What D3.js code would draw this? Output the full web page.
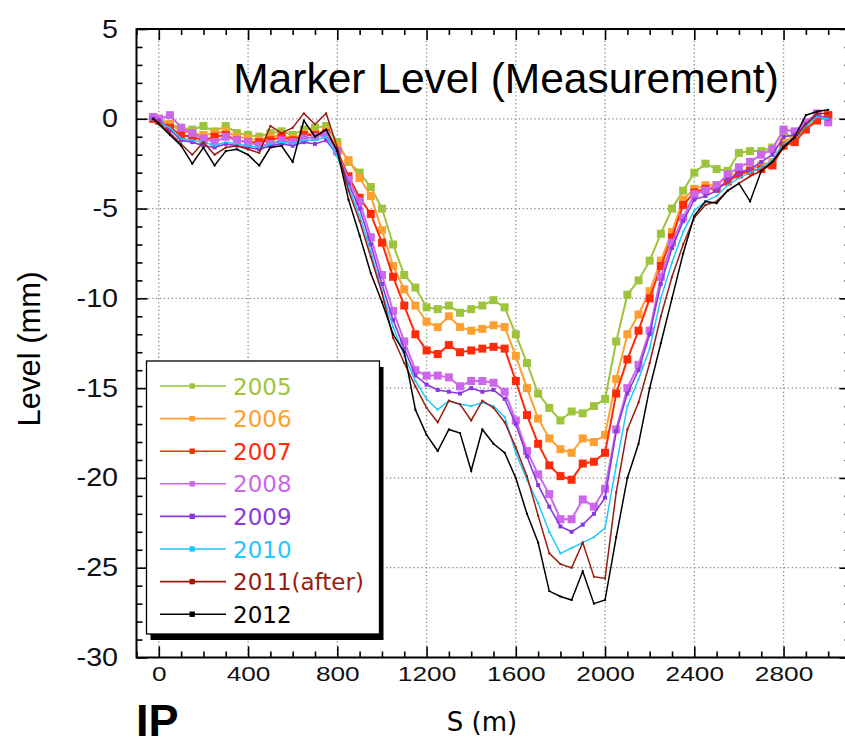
<!DOCTYPE html>
<html><head><meta charset="utf-8">
<script src="https://cdn.jsdelivr.net/npm/d3@7"></script>
<style>body{margin:0;background:#fff;overflow:hidden}</style>
</head><body>
<svg id="c" width="845" height="746"></svg>
<script>
// ---------------- DATA ----------------
const S = [-25,0,50,100,150,200,250,300,350,400,450,500,550,600,650,700,750,800,850,900,950,1000,1050,1100,1150,1200,1250,1300,1350,1400,1450,1500,1550,1600,1650,1700,1750,1800,1850,1900,1950,2000,2050,2100,2150,2200,2250,2300,2350,2400,2450,2500,2550,2600,2650,2700,2750,2800,2850,2900,2950,3000];

const years = ["2005","2006","2007","2008","2009","2010","2011(after)","2012"];

const v2005 = [0.0,0.0,-0.3,-0.5,-0.6,-0.4,-0.7,-0.4,-0.8,-0.9,-1.0,-0.8,-0.7,-0.9,-0.6,-0.5,-0.4,-1.3,-2.4,-3.0,-3.8,-5.0,-7.0,-8.7,-9.4,-10.5,-10.6,-10.4,-10.8,-10.6,-10.4,-10.1,-10.5,-12.0,-13.6,-15.3,-16.1,-16.8,-16.3,-16.4,-16.0,-15.6,-12.4,-9.8,-9.0,-7.9,-6.4,-5.0,-4.0,-3.0,-2.5,-2.8,-2.9,-1.9,-1.8,-1.8,-1.6,-0.7,-1.2,-0.5,0.2,0.0];
const v2006 = [0.0,0.0,-0.3,-0.7,-0.8,-0.9,-0.8,-0.7,-1.0,-1.1,-1.2,-1.0,-0.9,-1.1,-0.8,-0.8,-0.7,-1.5,-2.3,-3.3,-4.3,-6.2,-8.2,-9.5,-10.4,-11.3,-11.6,-11.0,-11.6,-11.8,-11.7,-11.5,-11.6,-13.2,-15.0,-16.7,-17.8,-18.4,-18.6,-17.8,-18.0,-17.6,-14.5,-12.0,-10.9,-9.6,-7.9,-6.3,-4.5,-3.9,-3.7,-3.7,-3.2,-3.0,-2.8,-2.6,-2.4,-1.3,-1.0,-0.5,0.0,0.2];
const v2007 = [0.0,-0.1,-0.5,-0.9,-1.0,-1.2,-1.0,-0.9,-1.2,-1.3,-1.3,-1.2,-1.0,-1.2,-0.9,-0.9,-0.8,-1.8,-3.2,-4.4,-5.3,-6.9,-8.8,-10.4,-12.0,-12.9,-13.1,-12.6,-13.0,-12.9,-12.8,-12.7,-12.8,-14.6,-16.5,-18.1,-19.3,-19.9,-20.1,-19.2,-19.1,-18.6,-15.3,-13.4,-11.8,-10.0,-8.2,-6.6,-4.8,-4.1,-3.9,-3.9,-3.5,-3.1,-2.9,-2.8,-2.6,-1.5,-1.3,-0.6,-0.1,0.2];
const v2008 = [0.1,0.0,0.2,-0.5,-0.8,-1.1,-1.3,-1.0,-1.2,-1.3,-1.5,-1.4,-1.2,-1.3,-1.1,-1.0,-0.9,-1.8,-3.4,-4.6,-6.6,-8.7,-10.7,-12.4,-14.0,-14.3,-14.3,-14.4,-14.9,-14.6,-14.6,-14.7,-15.2,-16.8,-18.5,-19.8,-20.9,-22.3,-22.3,-21.2,-21.6,-20.6,-17.3,-15.0,-13.7,-11.8,-8.8,-6.9,-5.5,-4.2,-4.0,-3.7,-3.1,-2.7,-2.4,-2.0,-1.7,-0.6,-0.7,-0.2,0.3,-0.2];
const v2009 = [0.0,-0.1,-0.6,-1.2,-1.3,-1.5,-1.6,-1.4,-1.5,-1.6,-1.7,-1.5,-1.4,-1.5,-1.3,-1.4,-1.2,-2.0,-3.6,-5.0,-7.0,-9.2,-11.2,-12.8,-14.3,-14.8,-15.1,-15.2,-15.3,-15.0,-15.2,-15.1,-15.6,-17.0,-18.8,-20.4,-21.6,-22.7,-23.0,-22.6,-22.0,-21.1,-17.4,-15.3,-14.0,-12.0,-9.2,-7.2,-5.7,-4.5,-4.3,-4.0,-3.4,-3.0,-2.8,-2.4,-2.0,-1.0,-0.9,-0.3,0.2,0.0];
const v2010 = [0.0,-0.2,-0.5,-1.1,-1.2,-1.3,-1.5,-1.3,-1.4,-1.5,-1.6,-1.4,-1.3,-1.4,-1.2,-1.2,-1.0,-2.1,-3.8,-5.4,-7.4,-9.6,-11.6,-13.2,-14.6,-15.6,-16.2,-15.7,-15.9,-16.0,-15.8,-16.0,-16.6,-18.6,-20.1,-21.4,-23.0,-24.2,-23.9,-23.6,-23.3,-22.8,-19.3,-16.0,-14.5,-12.8,-10.0,-8.0,-6.3,-5.1,-4.6,-4.3,-3.7,-3.3,-3.0,-2.7,-2.3,-1.4,-1.1,-0.4,0.1,0.0];
const v2011 = [0.0,-0.2,-0.8,-1.4,-2.0,-1.3,-2.0,-1.6,-1.5,-1.7,-1.9,-0.4,-0.8,-0.5,0.3,-0.3,0.3,-1.6,-4.0,-5.7,-7.7,-9.7,-12.2,-13.6,-14.9,-16.1,-16.9,-15.7,-15.9,-16.8,-15.7,-16.1,-16.9,-18.3,-19.9,-22.1,-24.2,-24.8,-25.0,-23.6,-25.5,-25.6,-20.8,-17.3,-15.8,-13.6,-11.0,-8.8,-7.0,-5.5,-4.8,-4.6,-4.0,-3.6,-3.2,-2.9,-2.4,-1.5,-1.1,-0.3,0.3,0.3];
const v2012 = [0.0,-0.3,-0.9,-1.5,-2.5,-1.6,-2.6,-1.8,-1.7,-2.0,-2.6,-1.6,-1.5,-2.4,-0.1,-1.0,-0.6,-1.8,-4.5,-6.5,-8.6,-10.2,-12.0,-13.0,-16.2,-17.6,-18.5,-17.3,-17.5,-19.6,-17.3,-18.1,-18.6,-20.0,-22.0,-23.6,-26.3,-26.6,-26.8,-25.2,-27.0,-26.8,-23.3,-20.0,-18.1,-15.0,-12.5,-10.0,-7.5,-5.4,-4.6,-4.7,-4.0,-3.6,-4.6,-2.9,-2.4,-1.6,-1.0,0.2,0.4,0.5];

const seriesValues = [v2005,v2006,v2007,v2008,v2009,v2010,v2011,v2012];

const xTicks = [0,400,800,1200,1600,2000,2400,2800];
const xMinor = [-100,100,200,300,500,600,700,900,1000,1100,1300,1400,1500,1700,1800,1900,2100,2200,2300,2500,2600,2700,2900,3000,3100];
const yTicks = [5,0,-5,-10,-15,-20,-25,-30];
const yMinor = [4,3,2,1,-1,-2,-3,-4,-6,-7,-8,-9,-11,-12,-13,-14,-16,-17,-18,-19,-21,-22,-23,-24,-26,-27,-28,-29];
const yGrid = [0,-5,-10,-15,-20,-25];

// ---------------- STYLE ----------------
const colors = ["#9dc43c","#ff9f30","#ff2a08","#cc66ea","#8a38e0","#1ec8ff","#9a1c0e","#000000"];
const markerSize = [8,8,8,8,4,2,2,2];
const lineWidth = [2,2,2,2,1.6,1.5,1.5,1.5];

const svg = d3.select("#c");
const L = 136.5, R = 850.5, T = 29, B = 657.5;
const x = d3.scaleLinear().domain([-100,3100]).range([L,R]);
const y = d3.scaleLinear().domain([-30,5]).range([B,T]);

// grid
const grid = svg.append("g").attr("stroke","#8a8a8a").attr("stroke-width",1.3).attr("stroke-dasharray","1.3,2.6");
grid.selectAll(".gx").data(xTicks).join("line")
  .attr("x1",d=>x(d)).attr("x2",d=>x(d)).attr("y1",T).attr("y2",B);
grid.selectAll(".gy").data(yGrid).join("line")
  .attr("y1",d=>y(d)).attr("y2",d=>y(d)).attr("x1",L).attr("x2",R);

// series
const line = d3.line().x((d,i)=>x(S[i])).y(d=>y(d));
seriesValues.forEach((vals,k)=>{
  const g = svg.append("g");
  g.append("path").datum(vals).attr("d",line).attr("fill","none")
    .attr("stroke",colors[k]).attr("stroke-width",lineWidth[k]).attr("stroke-linejoin","miter");
  const s = markerSize[k];
  g.selectAll("rect").data(vals).join("rect")
    .attr("x",(d,i)=>x(S[i])-s/2).attr("y",d=>y(d)-s/2)
    .attr("width",s).attr("height",s).attr("fill",colors[k]);
});

// axes
const fmt = d=>String(d);
function styleAxis(g){ g.select(".domain").remove(); g.selectAll("line").attr("stroke","#000").attr("stroke-width",1.6); }
svg.append("g").attr("transform",`translate(0,${B})`)
  .call(d3.axisBottom(x).tickValues(xTicks).tickSize(-11).tickPadding(9).tickFormat(fmt))
  .call(styleAxis)
  .call(g=>g.selectAll("text").attr("font-family","Liberation Sans, Arial, sans-serif").attr("font-size",21)
        .attr("fill","#111").attr("transform","scale(1.25,1)"));
svg.append("g").attr("transform",`translate(0,${B})`)
  .call(d3.axisBottom(x).tickValues(xMinor).tickSize(-6).tickFormat("")).call(styleAxis);
svg.append("g").attr("transform",`translate(0,${T})`)
  .call(d3.axisTop(x).tickValues(xTicks).tickSize(-11).tickFormat("")).call(styleAxis);
svg.append("g").attr("transform",`translate(0,${T})`)
  .call(d3.axisTop(x).tickValues(xMinor).tickSize(-6).tickFormat("")).call(styleAxis);
svg.append("g").attr("transform",`translate(${L},0)`)
  .call(d3.axisLeft(y).tickValues(yTicks).tickSize(-11).tickPadding(16).tickFormat(fmt))
  .call(styleAxis)
  .call(g=>g.selectAll("text").attr("font-family","Liberation Sans, Arial, sans-serif").attr("font-size",25)
        .attr("fill","#111").attr("transform","scale(1.15,1)"));
svg.append("g").attr("transform",`translate(${L},0)`)
  .call(d3.axisLeft(y).tickValues(yMinor).tickSize(-6).tickFormat("")).call(styleAxis);
svg.append("g").attr("transform",`translate(${R},0)`)
  .call(d3.axisRight(y).tickValues(yTicks).tickSize(-11).tickFormat("")).call(styleAxis);
svg.append("g").attr("transform",`translate(${R},0)`)
  .call(d3.axisRight(y).tickValues(yMinor).tickSize(-6).tickFormat("")).call(styleAxis);

// frame
svg.append("rect").attr("x",L).attr("y",T).attr("width",R-L).attr("height",B-T)
  .attr("fill","none").attr("stroke","#000").attr("stroke-width",2);

// legend
const lg = {x:146.5, y:361, w:233, h:273};
svg.append("rect").attr("x",lg.x+4).attr("y",lg.y+6).attr("width",lg.w).attr("height",lg.h).attr("fill","#000");
svg.append("rect").attr("x",lg.x).attr("y",lg.y).attr("width",lg.w).attr("height",lg.h)
  .attr("fill","#fff").attr("stroke","#000").attr("stroke-width",1.3);
years.forEach((name,k)=>{
  const cy = 386 + k*32.6;
  svg.append("line").attr("x1",160).attr("x2",226).attr("y1",cy).attr("y2",cy)
    .attr("stroke",colors[k]).attr("stroke-width",1.6);
  svg.append("rect").attr("x",189.5).attr("y",cy-2.7).attr("width",5.4).attr("height",5.4).attr("fill",colors[k]);
  svg.append("text").attr("x",233).attr("y",cy+8.5).text(name)
    .attr("font-family","DejaVu Sans, sans-serif").attr("font-size",23).attr("fill",colors[k]);
});

// titles
svg.append("text").attr("x",506).attr("y",93).attr("text-anchor","middle")
  .attr("font-family","Liberation Sans, Arial, sans-serif").attr("font-size",42.5).attr("fill","#000")
  .text("Marker Level (Measurement)");
svg.append("text").attr("transform","translate(40,349) rotate(-90)").attr("text-anchor","middle")
  .attr("font-family","Liberation Sans, Arial, sans-serif").attr("font-size",31).attr("fill","#000")
  .text("Level (mm)");
svg.append("text").attr("x",482).attr("y",731).attr("text-anchor","middle")
  .attr("font-family","DejaVu Sans, sans-serif").attr("font-size",26).attr("fill","#000")
  .text("S (m)");
svg.append("text").attr("x",136).attr("y",736)
  .attr("font-family","Liberation Sans, Arial, sans-serif").attr("font-size",45).attr("font-weight","bold").attr("fill","#000")
  .text("IP");
</script>
</body></html>
